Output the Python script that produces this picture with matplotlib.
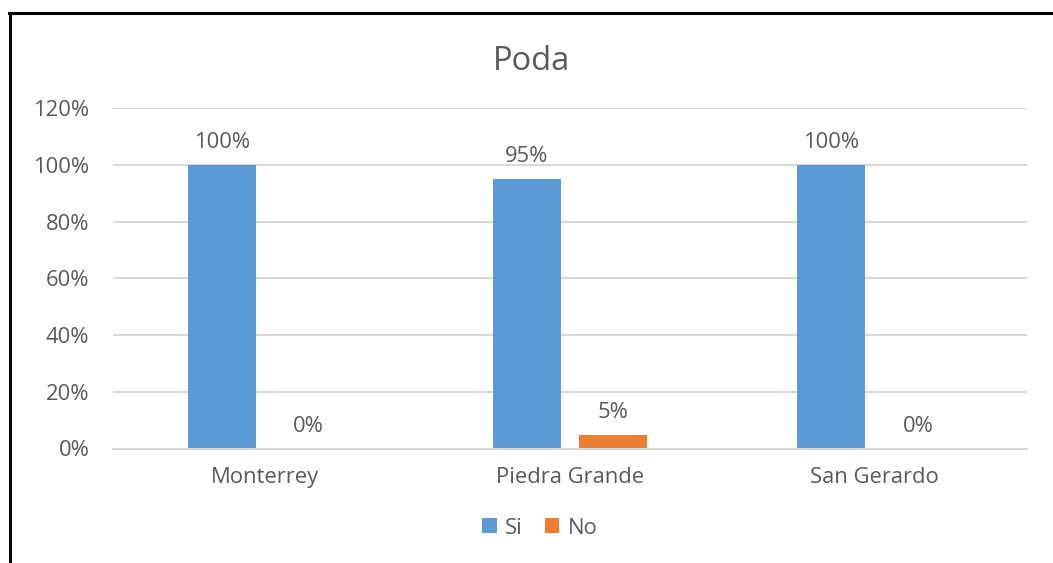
import matplotlib
matplotlib.use("Agg")
import matplotlib.pyplot as plt
from matplotlib.lines import Line2D
import numpy as np

categories = ["Monterrey", "Piedra Grande", "San Gerardo"]
si_values = [1.00, 0.95, 1.00]
no_values = [0.0, 0.046, 0.0]
series_names = ["Si", "No"]
yticks = [0, 0.2, 0.4, 0.6, 0.8, 1.0, 1.2]
title = "Poda"

W, H = 1053, 563
fig = plt.figure(figsize=(W / 100, H / 100), dpi=100)
plt.rcParams['font.family'] = ['Open Sans', 'DejaVu Sans']
txt = "#595959"
fs = 15.8

ax = fig.add_axes([113 / W, 1 - 448.5 / H, (1027 - 113) / W, (448.5 - 108) / H])
x = np.arange(len(categories))
bw = 0.223
off = 0.142
b1 = ax.bar(x - off, si_values, bw, color="#5B9BD5", label=series_names[0], zorder=3)
b2 = ax.bar(x + off, no_values, bw, color="#ED7D31", label=series_names[1], zorder=3)

for bars, vals in ((b1, si_values), (b2, no_values)):
    for r, v in zip(bars, vals):
        ax.annotate(f"{int(v * 100 + 0.5)}%", (r.get_x() + r.get_width() / 2, v),
                    xytext=(0, 12), textcoords="offset pixels", ha="center", va="bottom",
                    fontsize=fs, color=txt)

ax.set_xlim(-0.5, 2.5)
ax.set_ylim(0, 1.2)
ax.set_yticks(yticks)
ax.set_yticklabels([f"{int(round(t * 100))}%" for t in yticks], fontsize=fs, color=txt)
ax.set_xticks(x)
ax.set_xticklabels(categories, fontsize=fs, color=txt)
ax.tick_params(axis="both", length=0)
ax.tick_params(axis="x", pad=13)
ax.tick_params(axis="y", pad=17)
ax.yaxis.grid(True, color="#d9d9d9", linewidth=1.5, zorder=0)
for s in ["top", "right", "left"]:
    ax.spines[s].set_visible(False)
ax.spines["bottom"].set_color("#d9d9d9")
ax.spines["bottom"].set_linewidth(1.5)
ax.spines["bottom"].set_zorder(4)

fig.text(531 / W, 1 - 62 / H, title, ha="center", va="center", fontsize=23.5, color=txt)

fig.legend(handles=[b1, b2], labels=series_names, loc="center",
           bbox_to_anchor=(540 / W, 1 - 528 / H), ncol=2, frameon=False,
           fontsize=fs, labelcolor=txt, handlelength=0.65, handleheight=0.65,
           handletextpad=0.4, columnspacing=1.0)

fig.add_artist(Line2D([10 / W, 10 / W], [0, 1 - 12.5 / H], color="black", linewidth=2.2,
                      transform=fig.transFigure))
fig.add_artist(Line2D([9 / W, 1], [1 - 12.5 / H, 1 - 12.5 / H], color="black", linewidth=2.2,
                      transform=fig.transFigure))

fig.savefig("out.png", dpi=100)
